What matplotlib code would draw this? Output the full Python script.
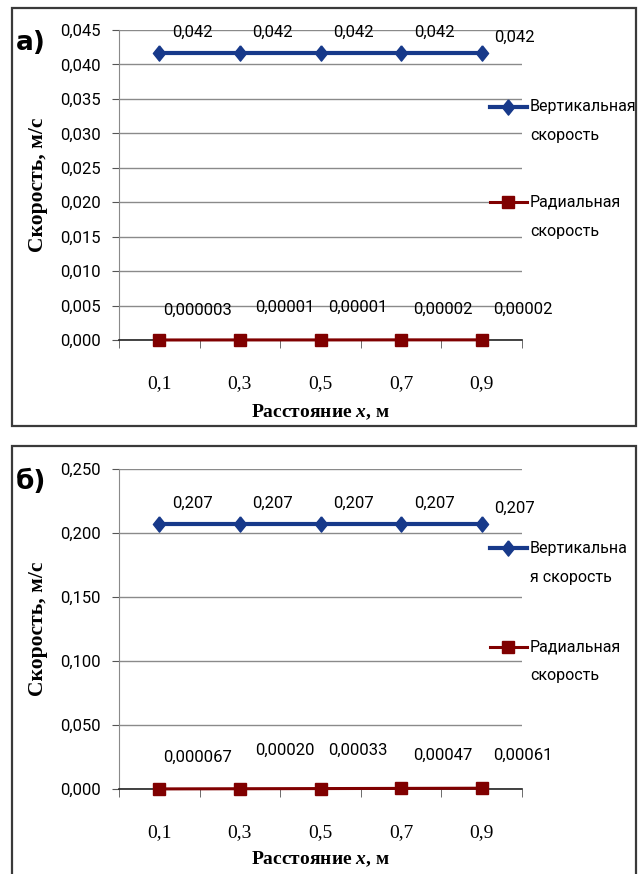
import matplotlib
matplotlib.use('Agg')
import matplotlib.pyplot as plt
from matplotlib.patches import Rectangle
from matplotlib.lines import Line2D

plt.rcParams['font.family'] = ['Roboto', 'DejaVu Sans']
plt.rcParams['mathtext.fontset'] = 'custom'
plt.rcParams['mathtext.it'] = 'Liberation Serif:italic:bold'

# расстояние x, м
x_labels = ['0,1', '0,3', '0,5', '0,7', '0,9']

# а) вертикальная и радиальная скорость, м/с
vert_a = [0.0416, 0.0416, 0.0416, 0.0416, 0.0416]
rad_a = [0.000003, 0.00001, 0.00001, 0.00002, 0.00002]
rad_a_digits = [6, 5, 5, 5, 5]

# б)
vert_b = [0.207, 0.207, 0.207, 0.207, 0.207]
rad_b = [0.000067, 0.00020, 0.00033, 0.00047, 0.00061]
rad_b_digits = [6, 5, 5, 5, 5]

BLUE = '#17398A'
RED = '#800000'
GRID = '#8a8a8a'
SERIF = 'Liberation Serif'
FS = 12

# ромб чуть выше, чем шире
diamond = [(0, 1), (0.8, 0), (0, -1), (-0.8, 0), (0, 1)]


def comma(v, d):
    return f"{v:.{d}f}".replace('.', ',')


def draw_panel(ax, tag, vert, rad, rad_digits, ymax, ystep,
               vert_legend, rad_dy, xlab_y):
    xs = list(range(len(x_labels)))

    ax.plot(xs, vert, color=BLUE, lw=3.0, marker=diamond, ms=11,
            mfc=BLUE, mec=BLUE, zorder=4, clip_on=False)
    ax.plot(xs, rad, color=RED, lw=2.2, marker='s', ms=9,
            mfc=RED, mec=RED, zorder=4, clip_on=False)

    # подписи значений
    for i, v in enumerate(vert):
        dy = 16 if i == len(vert) - 1 else 21
        ax.annotate(comma(v, 3), (i, v), xytext=(33, dy),
                    textcoords='offset pixels', ha='center', va='center',
                    fontsize=FS)
    rad_dx = [38, 45, 37, 42, 41]
    for i, v in enumerate(rad):
        ax.annotate(comma(v, rad_digits[i]), (i, v),
                    xytext=(rad_dx[i], rad_dy[i]),
                    textcoords='offset pixels', ha='center', va='center',
                    fontsize=FS)

    ax.set_xlim(-0.5, len(xs) - 0.5)
    ax.set_ylim(0, ymax)
    yt = [k * ystep for k in range(round(ymax / ystep) + 1)]
    ax.set_yticks(yt)
    ax.set_yticklabels([comma(t, 3) for t in yt], fontsize=FS)
    ax.set_xticks(xs)
    ax.set_xticklabels(x_labels, fontsize=14, family=SERIF)
    ax.set_xticks([k - 0.5 for k in range(len(xs) + 1)], minor=True)
    ax.tick_params(axis='x', which='major', length=0, pad=25)
    ax.tick_params(axis='x', which='minor', length=6, color='#555555')
    ax.tick_params(axis='y', length=5, color='#555555', pad=8)

    ax.grid(axis='y', color=GRID, lw=1)
    ax.set_axisbelow(True)
    for s in ('top', 'right'):
        ax.spines[s].set_visible(False)
    ax.spines['left'].set_color(GRID)
    ax.spines['bottom'].set_color('#222222')
    ax.spines['bottom'].set_linewidth(1.2)
    ax.spines['bottom'].set_zorder(3)

    ax.text(-0.201, 0.5, 'Скорость, м/с', transform=ax.transAxes,
            rotation=90, ha='center', va='center', fontsize=15.5,
            fontweight='bold', family=SERIF)
    ax.text(0.5, xlab_y, 'Расстояние $x$, м', transform=ax.transAxes,
            ha='center', va='center', fontsize=14, fontweight='bold',
            family=SERIF)
    ax.text(-0.218, 0.958, tag, transform=ax.transAxes, ha='center',
            va='center', fontsize=19, fontweight='bold', family='DejaVu Sans')

    # легенда
    entries = [(BLUE, diamond, 11, 3.0, vert_legend, 0.752),
               (RED, 's', 9, 2.2, ['Радиальная', 'скорость'], 0.445)]
    for col, mk, ms, lw, lines, yy in entries:
        ax.add_line(Line2D([0.921, 1.012], [yy, yy], color=col, lw=lw,
                           transform=ax.transAxes, clip_on=False))
        ax.add_line(Line2D([0.965], [yy], marker=mk, ms=ms, color=col,
                           transform=ax.transAxes, clip_on=False))
        for k, line in enumerate(lines):
            ax.annotate(line, (1.02, yy), xycoords='axes fraction',
                        xytext=(0, -29 * k), textcoords='offset pixels',
                        ha='left', va='center', fontsize=11.5)


fig = plt.figure(figsize=(6.41, 8.74), dpi=100)

ax_a = fig.add_axes([119 / 641, 1 - 340 / 874, 403 / 641, 310 / 874])
ax_b = fig.add_axes([119 / 641, 1 - 789 / 874, 403 / 641, 320 / 874])

draw_panel(ax_a, 'а)', vert_a, rad_a, rad_a_digits, 0.045, 0.005,
           ['Вертикальная', 'скорость'], [30, 33, 33, 31, 31], -0.232)
draw_panel(ax_b, 'б)', vert_b, rad_b, rad_b_digits, 0.250, 0.050,
           ['Вертикальна', 'я скорость'], [32, 38, 38, 33, 33], -0.219)

# рамки вокруг панелей
for y0, y1 in ((7.5, 425.5), (446, 884)):
    fig.add_artist(Rectangle((12 / 641, 1 - y1 / 874), 624 / 641,
                             (y1 - y0) / 874, transform=fig.transFigure,
                             fill=False, ec='#3a3a3a', lw=1.6))

fig.savefig('out.png', dpi=100)
